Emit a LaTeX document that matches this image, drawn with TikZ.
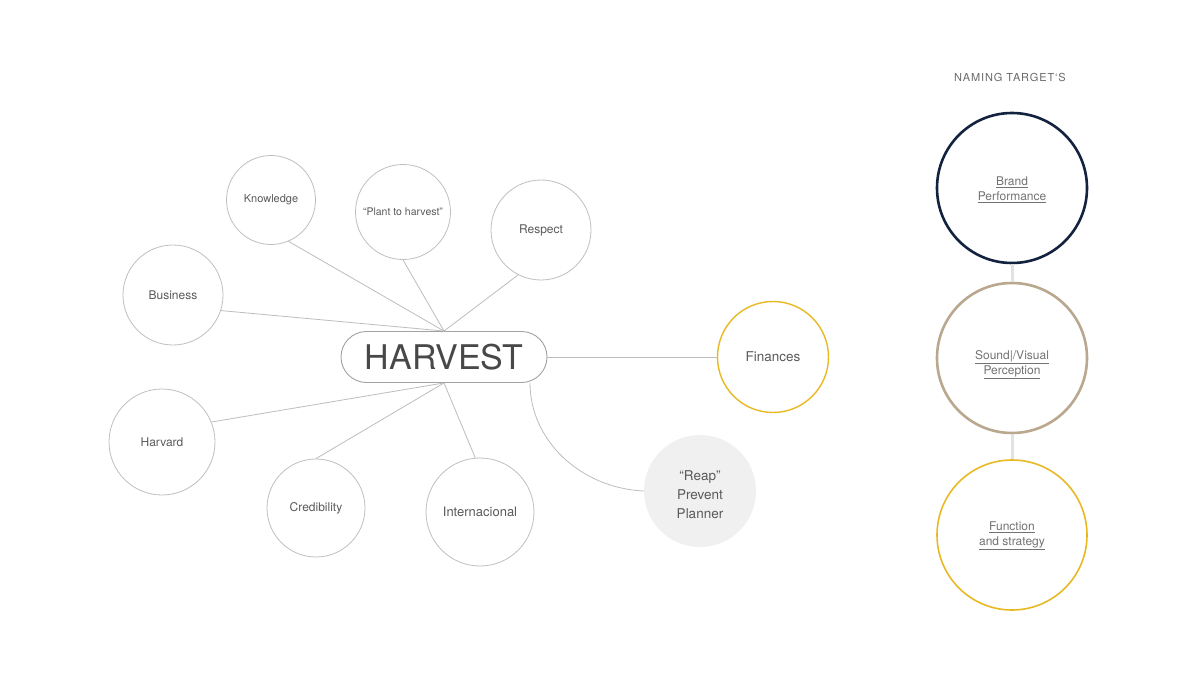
\documentclass[tikz,border=0pt]{standalone}
\usepackage{fontspec}
\setmainfont{TeX Gyre Heros}
\definecolor{txt}{HTML}{5A5A5A}
\definecolor{ring}{HTML}{BFBFBF}
\definecolor{link}{HTML}{BDBDBD}
\definecolor{gold}{HTML}{E8B923}
\definecolor{navy}{HTML}{13233F}
\definecolor{tan}{HTML}{B9A78E}
\definecolor{fog}{HTML}{F0F0F0}
\definecolor{bar}{HTML}{E2E2E2}
\begin{document}
\begin{tikzpicture}[x=1pt,y=-1pt,
  bubble/.style={circle,draw=ring,line width=0.8pt,inner sep=0pt,text=txt,align=center,font=\fontsize{12}{15}\selectfont},
  target/.style={circle,inner sep=0pt,minimum size=150pt,text=txt!85,align=center,font=\fontsize{12}{15}\selectfont},
  conn/.style={draw=link,line width=0.8pt}]
\useasboundingbox (0,0) rectangle (1200,685);
\fill[white] (0,0) rectangle (1200,685);

% central node
\node[draw=ring!85!black,line width=0.9pt,rounded corners=25.5pt,minimum width=206pt,minimum height=51pt,inner sep=0pt,text=txt!80!black,font=\fontsize{34}{34}\selectfont] (h) at (444,357) {HARVEST};

% bubbles
\node[bubble,minimum size=89pt,font=\fontsize{11}{13}\selectfont] (kn) at (271,200) {Knowledge};
\node[bubble,minimum size=95pt,font=\fontsize{10.5}{13}\selectfont] (pl) at (403,212) {“Plant to harvest”};
\node[bubble,minimum size=100pt] (re) at (541,230) {Respect};
\node[bubble,minimum size=100pt] (bu) at (173,295) {Business};
\node[bubble,minimum size=106pt] (ha) at (162,442) {Harvard};
\node[bubble,minimum size=98pt] (cr) at (316,508) {Credibility};
\node[bubble,minimum size=108pt,font=\fontsize{13}{15}\selectfont] (in) at (480,512) {Internacional};
\node[bubble,draw=gold,line width=1.4pt,minimum size=111pt,font=\fontsize{13.5}{15}\selectfont] (fi) at (773,357) {Finances};
\node[circle,fill=fog,inner sep=0pt,minimum size=112pt] (rp) at (700,491) {};
\node[text=txt,align=center,font=\fontsize{13.5}{19}\selectfont] (rpt) at (700,495) {“Reap”\\Prevent\\Planner};

% connectors
\draw[conn] (kn.-67) -- (h.north);
\draw[conn] (pl.south) -- (h.north);
\draw[conn] (re.-117) -- (h.north);
\draw[conn] (bu.-18) -- (h.north);
\draw[conn] (ha.22) -- (h.south);
\draw[conn] (cr.north) -- (h.south);
\draw[conn] (in.95) -- (h.south);
\draw[conn] (h.east) -- (fi.west);
\draw[conn] ([xshift=86pt]h.south) .. controls (530,440) and (580,488) .. (rp.west);

% naming targets
\node[text=txt!90,font=\fontsize{11}{13}\selectfont\addfontfeature{LetterSpace=8}] (nt) at (1010,77) {NAMING TARGET`S};
\node[target,draw=navy,line width=2.6pt] (bp) at (1012,188) {};
\node[target,draw=tan,line width=2.6pt] (sv) at (1012,358) {};
\node[target,draw=gold,line width=1.6pt] (fs) at (1012,535) {};
\node[text=txt!85,align=center,font=\fontsize{12}{15}\selectfont] (bpt) at (1012,190) {\underline{Brand}\\\underline{Performance}};
\node[text=txt!85,align=center,font=\fontsize{12}{15}\selectfont] (svt) at (1012,365) {\underline{Sound|/Visual}\\\underline{Perception}};
\node[text=txt!85,align=center,font=\fontsize{12}{15}\selectfont] (fst) at (1012,536) {\underline{Function}\\\underline{and strategy}};
\draw[draw=bar,line width=3pt] (bp) -- (sv);
\draw[draw=bar,line width=3pt] (sv) -- (fs);
\end{tikzpicture}
\end{document}
